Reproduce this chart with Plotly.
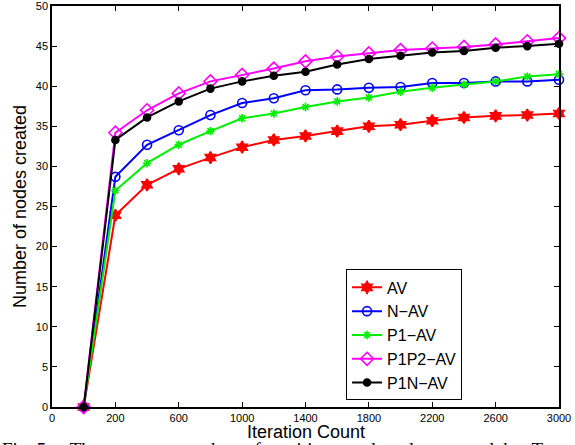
import plotly.graph_objects as go

iterations = [0, 200, 400, 600, 800, 1000, 1200, 1400, 1600, 1800, 2000, 2200, 2400, 2600, 2800, 3000]
av      = [0, 23.9, 27.7, 29.7, 31.1, 32.4, 33.3, 33.8, 34.4, 35.0, 35.2, 35.7, 36.1, 36.3, 36.4, 36.6]
n_av    = [0, 28.7, 32.7, 34.5, 36.4, 37.9, 38.5, 39.5, 39.6, 39.8, 39.9, 40.4, 40.4, 40.6, 40.6, 40.8]
p1_av   = [0, 27.0, 30.4, 32.7, 34.4, 36.0, 36.6, 37.4, 38.1, 38.6, 39.3, 39.8, 40.2, 40.6, 41.2, 41.5]
p1p2_av = [0, 34.2, 37.0, 39.1, 40.6, 41.4, 42.2, 43.1, 43.7, 44.1, 44.5, 44.7, 44.9, 45.2, 45.6, 46.0]
p1n_av  = [0, 33.3, 36.1, 38.1, 39.7, 40.6, 41.3, 41.8, 42.7, 43.4, 43.8, 44.2, 44.4, 44.8, 45.0, 45.3]

series_names = ["AV", "N−AV", "P1−AV", "P1P2−AV", "P1N−AV"]
x_tick_labels = ["0", "200", "600", "1000", "1400", "1800", "2200", "2600", "3000"]
y_ticks = list(range(0, 51, 5))

styles = [
    dict(color="#ff0000", symbol="hexagram", size=9),
    dict(color="#0000ff", symbol="circle-open", size=9),
    dict(color="#00ee00", symbol="asterisk-open", size=7),
    dict(color="#ff00ff", symbol="diamond-open", size=10),
    dict(color="#000000", symbol="circle", size=7),
]

fig = go.Figure()
for name, vals, st in zip(series_names, [av, n_av, p1_av, p1p2_av, p1n_av], styles):
    fig.add_trace(go.Scatter(
        x=iterations, y=vals, name=name, mode="lines+markers",
        line=dict(color=st["color"], width=2),
        marker=dict(symbol=st["symbol"], size=st["size"], color=st["color"],
                    line=dict(color=st["color"], width=1.6)),
        cliponaxis=False,
    ))

# tick positions: first label sits one step left of the first data point
step = iterations[1] - iterations[0]
x_tickvals = [iterations[0] - step] + [iterations[1] + 2 * step * i for i in range(len(x_tick_labels) - 1)]

axis_common = dict(showline=True, linecolor="black", linewidth=1.5, mirror="ticks",
                   ticks="inside", ticklen=5, tickcolor="black", tickwidth=1,
                   showgrid=False, zeroline=False, automargin=False,
                   ticklabeloverflow="allow",
                   tickfont=dict(family="Liberation Sans, Arial", size=11, color="black"))

fig.update_layout(
    width=575, height=445,
    margin=dict(l=52, r=16, t=6, b=38),
    paper_bgcolor="white", plot_bgcolor="white",
    font=dict(family="Liberation Sans, Arial", color="black"),
    xaxis=dict(range=[x_tickvals[0], iterations[-1]], tickvals=x_tickvals, ticktext=x_tick_labels,
               **axis_common),
    yaxis=dict(range=[0, 50], tickvals=y_ticks,
               title=dict(text="Number of nodes created", font=dict(size=18), standoff=4), **axis_common),
    legend=dict(x=0.58, y=0.343, xanchor="left", yanchor="top",
                bordercolor="black", borderwidth=1, bgcolor="white",
                font=dict(size=16, family="Liberation Sans, Arial"),
                tracegroupgap=0, itemwidth=30),
    showlegend=True,
)

# x-axis title
fig.add_annotation(
    text="Iteration Count", xref="paper", yref="paper", x=0.5, y=-0.063,
    xanchor="center", yanchor="middle", showarrow=False,
    font=dict(family="Liberation Sans, Arial", size=18, color="black"),
)

# figure caption (cut off by the bottom edge, as in the source)
fig.add_annotation(
    text="Fig. 5.    The  average  number  of  positions  and  nodes  created  by  T",
    xref="paper", yref="paper", x=-0.103, y=-0.075, xanchor="left", yanchor="top",
    showarrow=False, font=dict(family="Liberation Serif, Times New Roman", size=19, color="black"),
)

fig.write_html("out.html", config={"displayModeBar": False},
               post_script="document.body.style.margin='0';document.body.style.overflow='hidden';")
